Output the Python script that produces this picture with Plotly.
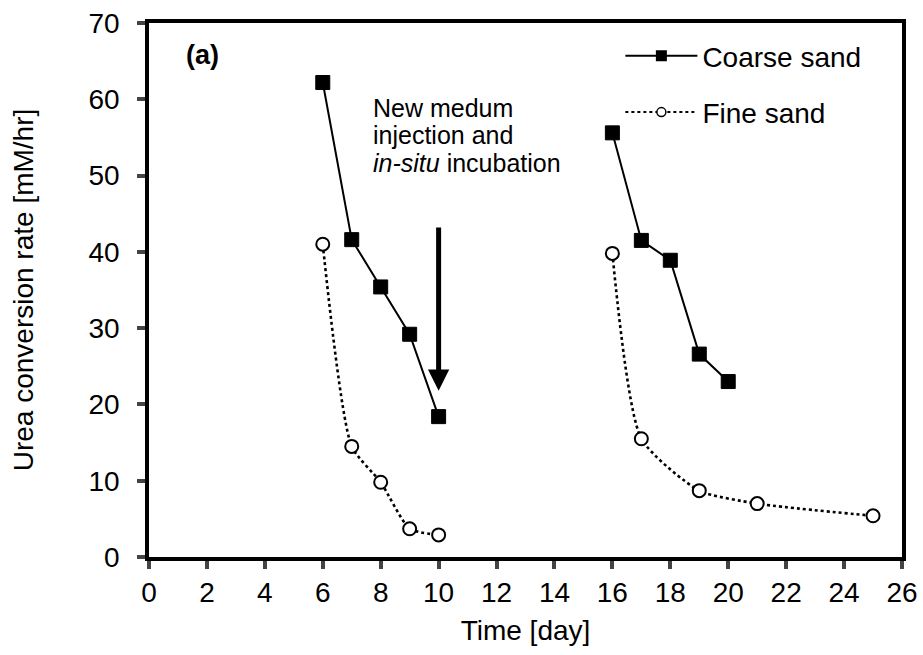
import plotly.graph_objects as go

coarse_day_1 = [6, 7, 8, 9, 10]
coarse_rate_1 = [62.2, 41.6, 35.4, 29.2, 18.4]
coarse_day_2 = [16, 17, 18, 19, 20]
coarse_rate_2 = [55.6, 41.5, 38.9, 26.6, 23.0]

fine_day_1 = [6, 7, 8, 9, 10]
fine_rate_1 = [41.0, 14.5, 9.8, 3.7, 2.9]
fine_day_2 = [16, 17, 19, 21, 25]
fine_rate_2 = [39.8, 15.5, 8.7, 7.0, 5.4]

x_ticks = list(range(0, 27, 2))
y_ticks = list(range(0, 71, 10))

arrow_x = 10
arrow_top = 43.4
arrow_tip = 21.8

note_lines = ["New medum", "injection and", "<i>in-situ</i> incubation"]
note_y = [58.85, 55.3, 51.7]

FONT = "Liberation Sans, Arial, sans-serif"

fig = go.Figure()

sq = dict(symbol="square", size=14, color="black", line=dict(color="black", width=1))
circ = dict(symbol="circle", size=13, color="white", line=dict(color="black", width=2))
solid = dict(color="black", width=2)
dotted = dict(color="black", width=2.6, dash="dot", shape="spline", smoothing=0.6)

for xs, ys in [(coarse_day_1, coarse_rate_1), (coarse_day_2, coarse_rate_2)]:
    fig.add_trace(go.Scatter(x=xs, y=ys, mode="lines+markers", line=solid, marker=sq,
                             showlegend=False))
for xs, ys in [(fine_day_1, fine_rate_1), (fine_day_2, fine_rate_2)]:
    fig.add_trace(go.Scatter(x=xs, y=ys, mode="lines+markers", line=dotted, marker=circ,
                             showlegend=False))

# legend entries (smaller symbols, as in the reference legend)
fig.add_trace(go.Scatter(x=[None], y=[None], mode="lines+markers", name="Coarse sand",
                         line=solid, legendgroup="c",
                         marker=dict(symbol="square", size=11, color="black")))
fig.add_trace(go.Scatter(x=[None], y=[None], mode="lines+markers", name="Fine sand",
                         line=dict(color="black", width=2, dash="dot"), legendgroup="f",
                         marker=dict(symbol="circle", size=9, color="white",
                                     line=dict(color="black", width=1.5))))

fig.add_annotation(x=arrow_x, y=arrow_tip, ax=arrow_x, ay=arrow_top,
                   xref="x", yref="y", axref="x", ayref="y",
                   showarrow=True, arrowhead=2, arrowsize=0.85, arrowwidth=5,
                   arrowcolor="black", text="")

for txt, yy in zip(note_lines, note_y):
    fig.add_annotation(x=7.68, y=yy, xref="x", yref="y", xanchor="left", yanchor="middle",
                       align="left", showarrow=False, text=txt,
                       font=dict(family=FONT, size=25, color="black"))

fig.add_annotation(x=1.2, y=65.8, xref="x", yref="y", xanchor="left", yanchor="middle",
                   showarrow=False, text="<b>(a)</b>",
                   font=dict(family=FONT, size=27, color="black"))

fig.update_layout(
    width=923, height=655,
    margin=dict(l=149, r=21, t=23, b=98),
    paper_bgcolor="white", plot_bgcolor="white",
    font=dict(family=FONT, size=28, color="black"),
    showlegend=True,
    legend=dict(x=0.626, y=0.985, xanchor="left", yanchor="top",
                bgcolor="rgba(0,0,0,0)", font=dict(size=28, family=FONT),
                tracegroupgap=17, itemwidth=72),
    xaxis=dict(range=[0, 26], tickvals=x_ticks, ticks="outside", ticklen=8, tickwidth=3.5,
               showline=True, linewidth=3.5, linecolor="black", mirror=True, showgrid=False,
               zeroline=False, title=dict(text="Time [day]", font=dict(size=28), standoff=14),
               tickfont=dict(size=28), ticklabelstandoff=0, automargin=False),
    yaxis=dict(range=[0, 70], tickvals=y_ticks, ticks="outside", ticklen=8, tickwidth=3.5,
               showline=True, linewidth=3.5, linecolor="black", mirror=True, showgrid=False,
               zeroline=False, title=dict(text="Urea conversion rate [mM/hr]", font=dict(size=28), standoff=48),
               tickfont=dict(size=28), ticklabelstandoff=12, automargin=False),
)

fig.write_html("out.html")
